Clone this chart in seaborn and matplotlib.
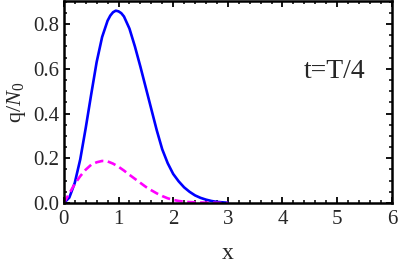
import numpy as np
import pandas as pd
import seaborn as sns
import matplotlib.pyplot as plt
from matplotlib.ticker import MultipleLocator

# values
x_blue = [0.0, 0.1, 0.2, 0.3, 0.4, 0.5, 0.6, 0.7, 0.8, 0.85, 0.9, 0.95, 1.0, 1.05, 1.1,
          1.2, 1.3, 1.4, 1.5, 1.6, 1.7, 1.8, 1.9, 2.0, 2.1, 2.2, 2.3, 2.4, 2.5, 2.6, 2.7,
          2.8, 2.9, 3.0]
q_blue = [0.0, 0.024, 0.09, 0.195, 0.335, 0.485, 0.63, 0.742, 0.815, 0.838, 0.853, 0.86,
          0.857, 0.849, 0.834, 0.78, 0.70, 0.61, 0.515, 0.42, 0.325, 0.24, 0.178, 0.13,
          0.097, 0.07, 0.05, 0.034, 0.023, 0.015, 0.009, 0.005, 0.003, 0.001]

x_magenta = [0.0, 0.1, 0.2, 0.3, 0.4, 0.5, 0.6, 0.7, 0.8, 0.9, 1.0, 1.1, 1.2, 1.3, 1.4,
             1.5, 1.6, 1.7, 1.8, 1.9, 2.0, 2.1, 2.2, 2.3, 2.5, 2.7, 3.0]
q_magenta = [0.0, 0.043, 0.085, 0.12, 0.149, 0.171, 0.182, 0.188, 0.186, 0.176, 0.162,
             0.145, 0.126, 0.108, 0.09, 0.072, 0.057, 0.043, 0.031, 0.021, 0.014, 0.009,
             0.006, 0.004, 0.002, 0.001, 0.0]

sns.set_style("ticks")
plt.rcParams['font.family'] = ['Liberation Serif', 'DejaVu Serif']
plt.rcParams['mathtext.fontset'] = 'custom'
plt.rcParams['mathtext.rm'] = 'Liberation Serif'
plt.rcParams['mathtext.it'] = 'Liberation Serif:italic'

df_b = pd.DataFrame({'x': x_blue, 'q': q_blue})
df_m = pd.DataFrame({'x': x_magenta, 'q': q_magenta})

fig = plt.figure(figsize=(3.99, 2.65), dpi=100)
ax = fig.add_axes([0.160, 0.234, 0.822, 0.762])

sns.lineplot(data=df_b, x='x', y='q', color='#0000ff', lw=1.9, ax=ax)
sns.lineplot(data=df_m, x='x', y='q', color='#ff00ff', lw=1.9, ax=ax,
             linestyle=(0, (3.2, 1.7)))

ax.set_xlim(0, 6)
ax.set_ylim(0, 0.903)
ax.xaxis.set_major_locator(MultipleLocator(1))
ax.xaxis.set_minor_locator(MultipleLocator(0.2))
ax.yaxis.set_major_locator(MultipleLocator(0.2))
ax.yaxis.set_minor_locator(MultipleLocator(0.05))
ax.yaxis.set_major_formatter(plt.FormatStrFormatter('%.1f'))

ax.tick_params(which='both', direction='in', top=True, right=True, color='black',
               labelsize=15)
ax.tick_params(axis='x', pad=5)
ax.tick_params(axis='y', pad=3)
ax.tick_params(which='major', length=4, width=1.3)
ax.tick_params(which='minor', length=2.2, width=1.1)
for sp in ax.spines.values():
    sp.set_linewidth(1.8)
    sp.set_color('black')

ax.set_xlabel('x', fontsize=17, labelpad=10)
ax.set_ylabel(r'q/$N_0$', fontsize=16, labelpad=4)
ax.text(4.95, 0.59, 't=T/4', fontsize=20, ha='center', va='center')

plt.savefig('out.png', dpi=100)
